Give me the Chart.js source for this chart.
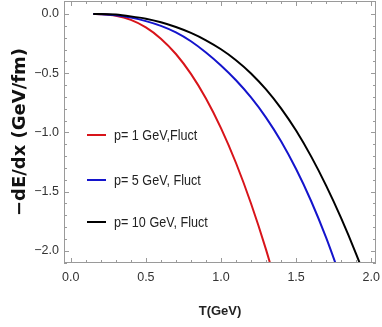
<!DOCTYPE html>
<html>
<head>
<meta charset="utf-8">
<script src="https://cdn.jsdelivr.net/npm/chart.js@4.4.1/dist/chart.umd.min.js"></script>
<style>
    html, body { margin: 0; padding: 0; background: #ffffff; }
</style>
</head>
<body>
<canvas id="eloss" width="382" height="327"></canvas>
<script>
// Temperature grid (GeV), shared by the three curves
const temperatures = [0.15, 0.2, 0.3, 0.4, 0.5, 0.6, 0.7, 0.8, 0.9, 1.0,
                      1.1, 1.2, 1.3, 1.4, 1.5, 1.6, 1.7, 1.8, 1.9, 2.0];

// -dE/dx (GeV/fm); each curve stops once it has left the frame
const elossP1 = [0, -0.002, -0.015, -0.05, -0.113, -0.208, -0.338, -0.506, -0.714, -0.964,
                 -1.259, -1.601, -1.991, -2.431];
const elossP5 = [0, -0.001, -0.01, -0.03, -0.06, -0.10, -0.155, -0.23, -0.325, -0.435,
                 -0.56, -0.705, -0.875, -1.075, -1.31, -1.58, -1.89, -2.24];
const elossP10 = [0, 0, -0.005, -0.02, -0.04, -0.07, -0.11, -0.16, -0.222, -0.298,
                  -0.39, -0.502, -0.637, -0.797, -0.985, -1.203, -1.45, -1.725, -2.028, -2.36];

const seriesLabels = ['p= 1 GeV,Fluct', 'p= 5 GeV, Fluct', 'p= 10 GeV, Fluct'];
const seriesColors = ['#d8141a', '#1414cc', '#000000'];

// Tick values
const xMajorTicks = [0.0, 0.5, 1.0, 1.5, 2.0];
const yMajorTicks = [0.0, -0.5, -1.0, -1.5, -2.0];
const xMinorTicks = [0.1, 0.2, 0.3, 0.4, 0.6, 0.7, 0.8, 0.9, 1.1, 1.2, 1.3, 1.4,
                     1.6, 1.7, 1.8, 1.9];
const yMinorTicks = [-0.1, -0.2, -0.3, -0.4, -0.6, -0.7, -0.8, -0.9, -1.1, -1.2, -1.3, -1.4,
                     -1.6, -1.7, -1.8, -1.9, -2.1];

const SANS = "'Liberation Sans', Arial, sans-serif";
const FRAME_COLOR = '#9a9a9a';

function toPoints(values) {
    return values.map((v, i) => ({ x: temperatures[i], y: v }));
}

function formatTick(value) {
    const sign = value < 0 ? '\u2212' : '';
    return sign + Math.abs(value).toFixed(1);
}

// Mathematica-like frame: box on all four sides with inward ticks
const frameTicks = {
    id: 'frameTicks',
    afterDatasetsDraw(chart) {
        const { ctx, chartArea: a, scales: { x, y } } = chart;
        ctx.save();
        ctx.strokeStyle = FRAME_COLOR;
        ctx.lineWidth = 1;
        ctx.strokeRect(a.left + 0.5, a.top + 0.5, a.right - a.left - 1, a.bottom - a.top - 1);

        function xTick(v, len) {
            const px = Math.round(x.getPixelForValue(v)) + 0.5;
            ctx.moveTo(px, a.bottom); ctx.lineTo(px, a.bottom - len);
            ctx.moveTo(px, a.top); ctx.lineTo(px, a.top + len);
        }
        function yTick(v, len) {
            const py = Math.round(y.getPixelForValue(v)) + 0.5;
            ctx.moveTo(a.left, py); ctx.lineTo(a.left + len, py);
            ctx.moveTo(a.right, py); ctx.lineTo(a.right - len, py);
        }
        ctx.beginPath();
        xMajorTicks.forEach(v => xTick(v, 5));
        xMinorTicks.forEach(v => xTick(v, 3));
        yMajorTicks.forEach(v => yTick(v, 5));
        yMinorTicks.forEach(v => yTick(v, 3));
        ctx.stroke();
        ctx.restore();
    }
};

// Legend placed inside the plot, left side (text squeezed like a narrow face)
const insideLegend = {
    id: 'insideLegend',
    afterDraw(chart) {
        const { ctx } = chart;
        const rowsY = [135, 180, 222];
        const squeeze = 0.84;
        ctx.save();
        chart.data.datasets.forEach((ds, i) => {
            ctx.strokeStyle = ds.borderColor;
            ctx.lineWidth = 2;
            ctx.beginPath();
            ctx.moveTo(87, rowsY[i]);
            ctx.lineTo(106, rowsY[i]);
            ctx.stroke();

            ctx.save();
            ctx.translate(114, rowsY[i] + 1);
            ctx.scale(squeeze, 1);
            ctx.font = '15px ' + SANS;
            ctx.textBaseline = 'middle';
            ctx.textAlign = 'left';
            ctx.fillStyle = '#222222';
            ctx.fillText(ds.label, 0, 0);
            ctx.restore();
        });
        ctx.restore();
    }
};

const seriesValues = [elossP1, elossP5, elossP10];

new Chart(document.getElementById('eloss'), {
    type: 'line',
    data: {
        datasets: seriesValues.map((vals, i) => ({
            label: seriesLabels[i],
            data: toPoints(vals),
            borderColor: seriesColors[i],
            borderWidth: 2,
            pointRadius: 0,
            fill: false,
            cubicInterpolationMode: 'monotone',
            order: seriesValues.length - i   // black ends up on top, as in the original
        }))
    },
    options: {
        responsive: false,
        devicePixelRatio: 1,
        animation: false,
        layout: { padding: { top: 1, right: 6, left: 0, bottom: 0 } },
        plugins: {
            legend: { display: false },
            tooltip: { enabled: false },
            title: { display: false }
        },
        scales: {
            x: {
                type: 'linear',
                min: -0.045,
                max: 2.032,
                afterBuildTicks: s => { s.ticks = xMajorTicks.map(v => ({ value: v })); },
                afterFit: s => {
                    s.height = 64;
                    s.paddingLeft = 0;
                    s.paddingRight = 0;
                },
                grid: { display: false, drawTicks: false },
                border: { display: false },
                ticks: {
                    color: '#333333',
                    padding: 7,
                    maxRotation: 0,
                    autoSkip: false,
                    font: { family: SANS, size: 12.5 },
                    callback: v => formatTick(v)
                },
                title: {
                    display: true,
                    text: 'T(GeV)',
                    color: '#222222',
                    font: { family: SANS, size: 13, weight: 'bold' },
                    padding: { top: 0, bottom: 8 }
                }
            },
            y: {
                type: 'linear',
                min: -2.104,
                max: 0.11,
                afterBuildTicks: s => { s.ticks = yMajorTicks.map(v => ({ value: v })); },
                afterFit: s => {
                    s.width = 64;
                    s.paddingTop = 0;
                    s.paddingBottom = 0;
                },
                grid: { display: false, drawTicks: false },
                border: { display: false },
                ticks: {
                    color: '#333333',
                    padding: 5,
                    autoSkip: false,
                    font: { family: SANS, size: 12.5 },
                    callback: v => formatTick(v)
                },
                title: {
                    display: true,
                    text: '\u2212dE/dx (GeV/fm)',
                    color: '#111111',
                    font: { family: "'DejaVu Sans', sans-serif", size: 18, weight: 'bold' },
                    padding: { top: 10, bottom: 0 }
                }
            }
        }
    },
    plugins: [frameTicks, insideLegend]
});
</script>
</body>
</html>
